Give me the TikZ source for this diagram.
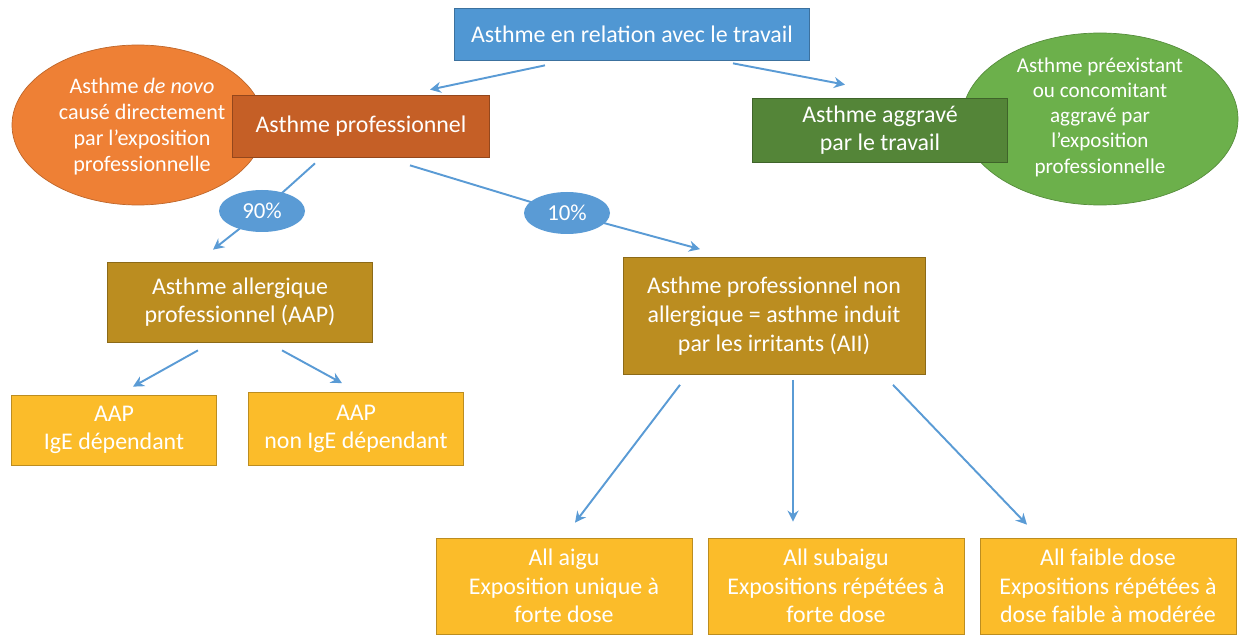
\documentclass[tikz,border=0pt]{standalone}
\usepackage{fontspec}
\setmainfont{Carlito}
\usetikzlibrary{arrows.meta,positioning,shapes,calc}
\definecolor{topblue}{HTML}{5097D3}
\definecolor{rust}{HTML}{C55F26}
\definecolor{orangeb}{HTML}{EE8035}
\definecolor{darkgrn}{HTML}{548538}
\definecolor{lightgrn}{HTML}{6CB04B}
\definecolor{gold}{HTML}{BB8D20}
\definecolor{amber}{HTML}{FBBC2A}
\definecolor{arrblue}{HTML}{5A9BD5}
\tikzset{
  card/.style={draw=#1!75!black,fill=#1,line width=0.4pt,align=center,
               inner sep=2pt,text=white,font=\fontsize{13.6}{16.3}\selectfont},
  blob/.style={ellipse,fill=#1,draw=#1!80!black,line width=0.4pt,align=center,
               inner sep=0pt,text=white,font=\fontsize{12.6}{14.8}\selectfont},
  blobtext/.style={text=white,align=center,font=\fontsize{#1}{#1*1.18}\selectfont},
  pct/.style={ellipse,fill=arrblue,inner sep=0pt,minimum width=86*0.02cm,
              minimum height=42*0.02cm,text=white,font=\fontsize{13}{15}\selectfont},
  bluearr/.style={-{Stealth[length=2.2mm,width=2.2mm]},line width=1.1pt,
                  draw=arrblue},
  blueline/.style={line width=1.1pt,draw=arrblue}
}
\begin{document}
\begin{tikzpicture}[x=0.02cm,y=-0.02cm]
  \useasboundingbox (0,0) rectangle (1242,635);
  % ellipses behind the cards
  \node[blob=orangeb,minimum width=252*0.02cm,minimum height=160*0.02cm] (denovo) at (138,125) {};
  \node[font=\fontsize{12.6}{14.8}\selectfont,text=white,align=center] (denovotxt) at (142,127)
    {Asthme \textit{de novo}\\causé directement\\par l’exposition\\professionnelle};
  \node[blob=lightgrn,minimum width=276*0.02cm,minimum height=172*0.02cm] (preex) at (1100,119) {};
  \node[font=\fontsize{12}{14.4}\selectfont,text=white,align=center] (preextxt) at (1100,117)
    {Asthme préexistant\\ou concomitant\\aggravé par\\l’exposition\\professionnelle};
  % cards
  \node[card=topblue,minimum width=355*0.02cm,minimum height=52*0.02cm] (top) at (632,34)
    {Asthme en relation avec le travail};
  \node[card=rust,minimum width=257*0.02cm,minimum height=62*0.02cm] (prof) at (361,126)
    {Asthme professionnel};
  \node[card=darkgrn,minimum width=255*0.02cm,minimum height=64*0.02cm] (aggr) at (880,130)
    {Asthme aggravé\\par le travail};
  \node[card=gold,minimum width=265*0.02cm,minimum height=80*0.02cm] (aap) at (240,302)
    {Asthme allergique\\professionnel (AAP)};
  \node[card=gold,minimum width=302*0.02cm,minimum height=117*0.02cm] (aii) at (774,316)
    {Asthme professionnel non\\allergique = asthme induit\\par les irritants (AII)};
  \node[card=amber,minimum width=205*0.02cm,minimum height=70*0.02cm] (ige) at (114,430)
    {AAP\\IgE dépendant};
  \node[card=amber,minimum width=215*0.02cm,minimum height=73*0.02cm] (nonige) at (356,429)
    {AAP\\non IgE dépendant};
  \node[card=amber,minimum width=256*0.02cm,minimum height=96*0.02cm] (aigu) at (564,586)
    {All aigu\\Exposition unique à\\forte dose};
  \node[card=amber,minimum width=256*0.02cm,minimum height=96*0.02cm] (subaigu) at (836,586)
    {All subaigu\\Expositions répétées à\\forte dose};
  \node[card=amber,minimum width=256*0.02cm,minimum height=96*0.02cm] (faible) at (1108,586)
    {All faible dose\\Expositions répétées à\\dose faible à modérée};
  % connectors
  \draw[bluearr] ($(top.south)+(-87,5)$) -- ($(prof.north)+(69,-5)$);
  \draw[bluearr] ($(top.south)+(101,3)$) -- ($(aggr.north)+(-35,-13)$);
  \draw[blueline] ($(prof.south)+(-46,6)$) -- (262,211) coordinate (c90);
  \draw[bluearr] (c90) -- ($(aap.north)+(-27,-12)$);
  \draw[blueline] ($(prof.south)+(49,8)$) -- (567,213) coordinate (c10);
  \draw[bluearr] (c10) -- ($(aii.north)+(-74,-8)$);
  \node[pct] (p90) at (c90) {90\%};
  \node[pct] (p10) at (c10) {10\%};
  \draw[bluearr] ($(aap.south)+(-42,8)$) -- ($(ige.north)+(19,-8)$);
  \draw[bluearr] ($(aap.south)+(42,8)$) -- ($(nonige.north)+(-14,-9)$);
  \draw[bluearr] ($(aii.south)+(-94,10)$) -- ($(aigu.north)+(11,-15)$);
  \draw[bluearr] ($(aii.south)+(19,5)$) -- ($(subaigu.north)+(-43,-16)$);
  \draw[bluearr] ($(aii.south)+(119,10)$) -- ($(faible.north)+(-81,-13)$);
\end{tikzpicture}
\end{document}
